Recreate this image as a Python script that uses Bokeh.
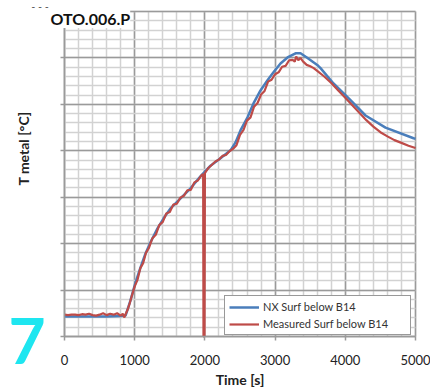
import math
from bokeh.plotting import figure
from bokeh.models import FixedTicker, Range1d, Label, Legend, LegendItem, Grid
from bokeh.core.properties import value
from bokeh.embed import file_html
from bokeh.resources import INLINE

# ---- data ----
nx_time = [0, 200, 400, 600, 800, 870, 940, 1011, 1083, 1154, 1225, 1325, 1410, 1510,
           1650, 1795, 1937, 2080, 2222, 2365, 2436, 2507, 2607, 2692, 2792, 2892, 2977,
           3077, 3177, 3291, 3362, 3462, 3600, 3647, 3832, 4074, 4288, 4573, 4972, 5000]
nx_temp = [43, 43, 43, 43, 44, 45, 78, 116, 149, 179, 203, 233, 254, 276,
           297, 319, 345, 368, 384, 401, 418, 444, 472, 502, 530, 552, 569,
           588, 601, 610, 610, 600, 585, 578, 545, 509, 476, 450, 427, 426]

meas_time = [0, 50, 100, 150, 200, 250, 300, 350, 400, 450, 500, 550, 600, 650, 700, 750,
             800, 830, 850, 870, 900, 930, 960, 1000, 1040, 1080, 1120, 1160, 1200, 1250,
             1300, 1350, 1400, 1450, 1500, 1550, 1600, 1650, 1700, 1750, 1800, 1850, 1900,
             1950, 1975, 1980, 1995, 2000, 2050, 2100, 2150, 2200, 2250, 2300, 2350, 2400,
             2450, 2500, 2550, 2600, 2650, 2700, 2750, 2800, 2850, 2900, 2950, 3000, 3050,
             3100, 3150, 3200, 3250, 3280, 3300, 3330, 3360, 3400, 3450, 3500, 3550, 3600,
             3700, 3800, 3900, 4000, 4100, 4200, 4300, 4400, 4500, 4600, 4700, 4800, 4900, 5000]
meas_temp = [47, 46, 47, 47, 46, 48, 47, 49, 46, 45, 47, 50, 46, 49, 47, 50,
             45, 49, 41, 48, 58, 72, 88, 108, 122, 147, 158, 180, 190, 211,
             219, 240, 247, 265, 268, 284, 286, 299, 303, 315, 316, 332, 336,
             347, 350, 0, 0, 352, 363, 370, 377, 381, 389, 391, 399, 404,
             412, 434, 445, 465, 472, 495, 503, 521, 529, 549, 553, 565, 569,
             581, 583, 595, 596, 592, 603, 595, 600, 592, 585, 582, 578, 572,
             560, 546, 530, 514, 498, 482, 466, 452, 440, 431, 423, 417, 411, 406]

x_ticks = [0, 1000, 2000, 3000, 4000, 5000]
x_tick_labels = ["0", "1000", "2000", "3000", "4000", "5000"]
y_ticks = [0, 100, 200, 300, 400, 500, 600, 700]
x_minor = list(range(0, 5001, 200))
y_minor = list(range(0, 701, 20))

FONT = "Lato"

# ---- layout: frame fills the canvas; plot area placed via ranges ----
W, H = 430, 391
PX_L, PX_R, PY_T, PY_B = 64, 415, 11, 336
X_MIN, X_MAX, Y_MIN, Y_MAX = 0, 5000, 0, 700
kx = (X_MAX - X_MIN) / (PX_R - PX_L)
ky = (Y_MAX - Y_MIN) / (PY_B - PY_T)


def dx(px):
    return X_MIN + (px - PX_L) * kx


def dy(py):
    return Y_MIN + (PY_B - py) * ky


p = figure(width=W, height=H, output_backend="svg", toolbar_location=None,
           x_range=Range1d(dx(0), dx(W)), y_range=Range1d(dy(H), dy(0)),
           x_axis_location="above", y_axis_location="right",
           min_border=0, min_border_left=0, min_border_right=0,
           min_border_top=0, min_border_bottom=0)
p.background_fill_color = "white"
p.border_fill_color = "white"
p.outline_line_color = None

p.xaxis.ticker = FixedTicker(ticks=x_ticks, minor_ticks=x_minor)
p.yaxis.ticker = FixedTicker(ticks=y_ticks, minor_ticks=y_minor)
p.xgrid.ticker = p.xaxis.ticker
p.ygrid.ticker = p.yaxis.ticker

for ax in (p.xaxis, p.yaxis):
    ax.fixed_location = 0
    ax.axis_line_color = "#9a9a9a"
    ax.axis_line_width = 1.5
    ax.major_tick_line_color = "#9a9a9a"
    ax.major_tick_line_width = 1.5
    ax.major_tick_out = 0
    ax.major_tick_in = 4
    ax.minor_tick_out = 0
    ax.minor_tick_in = 0
    ax.major_label_text_font_size = "0px"
    ax.major_label_text_color = None
    ax.major_label_standoff = 0
p.xaxis.bounds = (X_MIN, X_MAX)
p.yaxis.bounds = (Y_MIN, Y_MAX)

HAS_CB = "cross_bounds" in Grid.properties()
if HAS_CB:
    for g in p.xgrid:
        g.bounds = (X_MIN, X_MAX)
        g.cross_bounds = (Y_MIN, Y_MAX)
    for g in p.ygrid:
        g.bounds = (Y_MIN, Y_MAX)
        g.cross_bounds = (X_MIN, X_MAX)
    for g in (p.xgrid, p.ygrid):
        g.grid_line_color = "#9a9a9a"
        g.grid_line_width = 1.5
        g.minor_grid_line_color = "#d2d2d2"
        g.minor_grid_line_width = 1.5
else:
    p.xgrid.visible = False
    p.ygrid.visible = False
    p.segment(x0=x_minor, y0=[Y_MIN] * len(x_minor), x1=x_minor, y1=[Y_MAX] * len(x_minor),
              line_color="#d2d2d2", line_width=1.5)
    p.segment(x0=[X_MIN] * len(y_minor), y0=y_minor, x1=[X_MAX] * len(y_minor), y1=y_minor,
              line_color="#d2d2d2", line_width=1.5)
    p.segment(x0=x_ticks, y0=[Y_MIN] * len(x_ticks), x1=x_ticks, y1=[Y_MAX] * len(x_ticks),
              line_color="#9a9a9a", line_width=1.5)
    p.segment(x0=[X_MIN] * len(y_ticks), y0=y_ticks, x1=[X_MAX] * len(y_ticks), y1=y_ticks,
              line_color="#9a9a9a", line_width=1.5)

# ---- data lines ----
r_nx = p.line(nx_time, nx_temp, line_color="#4a7ebb", line_width=2.5)
r_meas = p.line(meas_time, meas_temp, line_color="#be4b48", line_width=2.2)

# ---- x tick labels ----
p.text(x=x_ticks, y=[dy(359)] * len(x_ticks), text=x_tick_labels,
       text_align="center", text_baseline="middle",
       text_font=value(FONT), text_font_size="13px", text_color="#222222")

# ---- legend ----
legend = Legend(items=[LegendItem(label="NX Surf below B14", renderers=[r_nx]),
                       LegendItem(label="Measured Surf below B14", renderers=[r_meas])],
                location=(224, H - 335))
legend.margin = 0
legend.padding = 4
legend.spacing = 4
legend.glyph_width = 30
legend.glyph_height = 12
legend.label_height = 12
legend.label_width = 143
legend.label_standoff = 4
legend.label_text_font = FONT
legend.label_text_font_size = "11px"
legend.label_text_color = "#333333"
legend.border_line_color = "#333333"
legend.border_line_width = 1.5
legend.background_fill_color = "white"
legend.background_fill_alpha = 1
p.add_layout(legend)

# ---- texts ----
p.add_layout(Label(x=dx(PX_L + (PX_R - PX_L) / 2), y=dy(379), text="Time [s]",
                   text_align="center", text_baseline="middle",
                   text_font=FONT, text_font_size="14px", text_font_style="bold",
                   text_color="#222222"))
p.add_layout(Label(x=dx(23), y=dy(148), text="T metal [°C]", angle=math.pi / 2,
                   text_align="center", text_baseline="middle",
                   text_font=FONT, text_font_size="14px", text_font_style="bold",
                   text_color="#222222"))
p.add_layout(Label(x=dx(50), y=dy(18), text="OTO.006.P", text_align="left",
                   text_baseline="middle", text_font=FONT, text_font_size="16px",
                   text_font_style="bold", text_color="#111111",
                   background_fill_color="white", background_fill_alpha=1))
p.add_layout(Label(x=dx(8), y=dy(340), text="7", text_align="left",
                   text_baseline="middle", text_font=FONT, text_font_size="64px",
                   text_font_style="bold", text_color="#1ee6f0"))
p.add_layout(Label(x=dx(31), y=dy(6), text="- - -", text_align="left",
                   text_baseline="middle", text_font="DejaVu Sans", text_font_size="10px",
                   text_color="#555555"))

open("out.html", "w").write(file_html(p, INLINE))
